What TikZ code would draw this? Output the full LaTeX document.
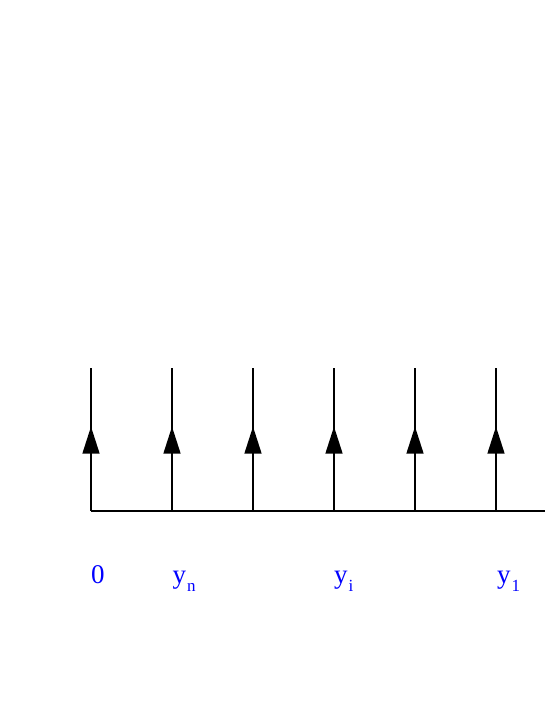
\documentclass[tikz,border=0pt]{standalone}
\usepackage{fontspec}
\setmainfont{Liberation Serif}
\usetikzlibrary{arrows.meta,decorations.markings}
\newcommand{\mysub}[1]{\kern1pt\raisebox{-8pt}{\fontsize{17}{17}\selectfont #1}}
\begin{document}
\begin{tikzpicture}[x=1pt,y=-1pt,
  wire/.style={line width=1.4pt,black},
  uparrow/.style={wire,postaction={decorate},decoration={markings,
     mark=at position 0.59 with {\arrow{Triangle[length=27pt,width=17pt]}}}},
  lab/.style={text=blue,font=\fontsize{27}{27}\selectfont,anchor=base west,inner sep=0pt}]
\useasboundingbox (0,0) rectangle (545,705);
\foreach \i/\x in {0/91,1/172,2/253,3/334,4/415,5/496}{
  \coordinate (b\i) at (\x,511);
  \coordinate (t\i) at (\x,368);
}
\coordinate (e) at (545,511);
\draw[wire] (b0) -- (e);
\foreach \i in {0,...,5}{\draw[uparrow] (b\i) -- (t\i);}
\node[lab] (l0) at (91,583) {0};
\node[lab] (ln) at (172.5,583) {y\mysub{n}};
\node[lab] (li) at (334,583) {y\mysub{i}};
\node[lab] (l1) at (497,583) {y\mysub{1}};
\end{tikzpicture}
\end{document}
